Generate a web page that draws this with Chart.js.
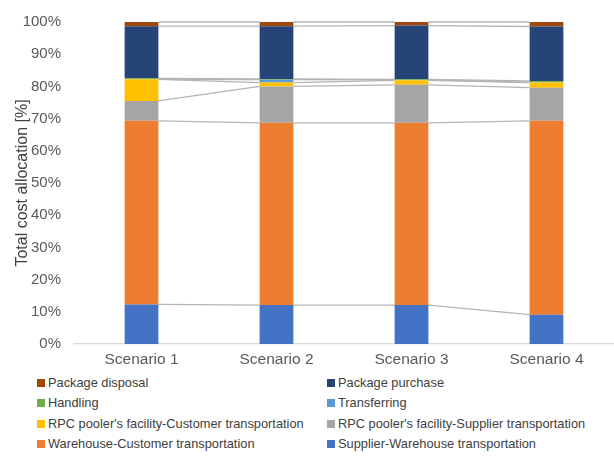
<!DOCTYPE html>
<html>
<head>
<meta charset="utf-8">
<script src="https://cdn.jsdelivr.net/npm/chart.js@4.4.1/dist/chart.umd.min.js"></script>
<style>
    body { margin: 0; background: #fff; font-family: "Liberation Sans", Arial, sans-serif; }
    #wrap { position: relative; width: 614px; height: 456px; }
    #legend { position: absolute; left: 0; top: 373px; width: 614px; }
    .item { position: absolute; height: 20px; line-height: 20px; font-size: 12.8px; color: #404040; white-space: nowrap; }
    .item span { display: inline-block; width: 8px; height: 8px; margin-right: 3px; vertical-align: 0px; }
</style>
</head>
<body>
<div id="wrap">
    <canvas id="costChart" width="614" height="370"></canvas>
    <div id="legend"></div>
</div>
<script>
const scenarios = ["Scenario 1", "Scenario 2", "Scenario 3", "Scenario 4"];

// stacked bottom -> top, values in %
const supplierWarehouse = [12.3, 12.1, 12.1, 9.1];
const warehouseCustomer = [57.0, 56.6, 56.6, 60.2];
const rpcSupplier = [6.2, 11.3, 11.8, 10.3];
const rpcCustomer = [6.7, 1.2, 1.4, 1.6];
const transferring = [0.0, 0.9, 0.1, 0.1];
const handling = [0.3, 0.2, 0.2, 0.4];
const packagePurchase = [16.2, 16.4, 16.7, 16.9];
const packageDisposal = [1.3, 1.3, 1.1, 1.4];

const yTicks = [0, 10, 20, 30, 40, 50, 60, 70, 80, 90, 100];

const series = [
    { label: "Supplier-Warehouse transportation", data: supplierWarehouse, color: "#4472C4" },
    { label: "Warehouse-Customer transportation", data: warehouseCustomer, color: "#ED7D31" },
    { label: "RPC pooler's facility-Supplier transportation", data: rpcSupplier, color: "#A5A5A5" },
    { label: "RPC pooler's facility-Customer transportation", data: rpcCustomer, color: "#FFC000" },
    { label: "Transferring", data: transferring, color: "#5B9BD5" },
    { label: "Handling", data: handling, color: "#70AD47" },
    { label: "Package purchase", data: packagePurchase, color: "#264478" },
    { label: "Package disposal", data: packageDisposal, color: "#9E480E" }
];

// excel style series lines between neighbouring bars
const seriesLines = {
    id: "seriesLines",
    beforeDatasetsDraw(chart) {
        const ctx = chart.ctx;
        ctx.save();
        ctx.strokeStyle = "#B4B4B4";
        ctx.lineWidth = 1.3;
        chart.data.datasets.forEach((ds, di) => {
            const els = chart.getDatasetMeta(di).data;
            for (let i = 0; i < els.length - 1; i++) {
                const a = els[i], b = els[i + 1];
                ctx.beginPath();
                ctx.moveTo(a.x + a.width / 2, a.y);
                ctx.lineTo(b.x - b.width / 2, b.y);
                ctx.stroke();
            }
        });
        ctx.restore();
    }
};

const chart = new Chart(document.getElementById("costChart"), {
    type: "bar",
    data: {
        labels: scenarios,
        datasets: series.map(s => ({
            label: s.label,
            data: s.data,
            backgroundColor: s.color,
            borderWidth: 0,
            barPercentage: 0.25,
            categoryPercentage: 1
        }))
    },
    plugins: [seriesLines],
    options: {
        responsive: false,
        animation: false,
        layout: { padding: { top: 11.5, left: 0, right: 0, bottom: 0 } },
        plugins: {
            legend: { display: false },
            tooltip: { enabled: false }
        },
        scales: {
            x: {
                stacked: true,
                grid: { display: false, drawTicks: false },
                border: { color: "#D9D9D9", width: 1.3 },
                ticks: { color: "#595959", padding: 6, font: { family: "Liberation Sans", size: 15.5 } },
                afterFit: s => { s.height = 26; }
            },
            y: {
                stacked: true,
                min: 0,
                max: 100,
                grid: { display: false, drawTicks: false },
                border: { display: false },
                afterBuildTicks: s => { s.ticks = yTicks.map(v => ({ value: v })); },
                ticks: {
                    color: "#595959",
                    padding: 13,
                    font: { family: "Liberation Sans", size: 15 },
                    callback: v => v + "%"
                },
                title: {
                    display: true,
                    text: "Total cost allocation [%]",
                    color: "#404040",
                    padding: { top: 13, bottom: 0 },
                    font: { family: "Liberation Sans", size: 16 }
                },
                afterFit: s => { s.width = 74; }
            }
        }
    }
});

// two column legend, top of stack first
const legend = document.getElementById("legend");
series.slice().reverse().forEach((s, i) => {
    const col = i % 2, row = Math.floor(i / 2);
    legend.innerHTML += `<div class="item" style="left:${col ? 327 : 37}px;top:${row * 20.3}px"><span style="background:${s.color}"></span>${s.label}</div>`;
});
</script>
</body>
</html>
